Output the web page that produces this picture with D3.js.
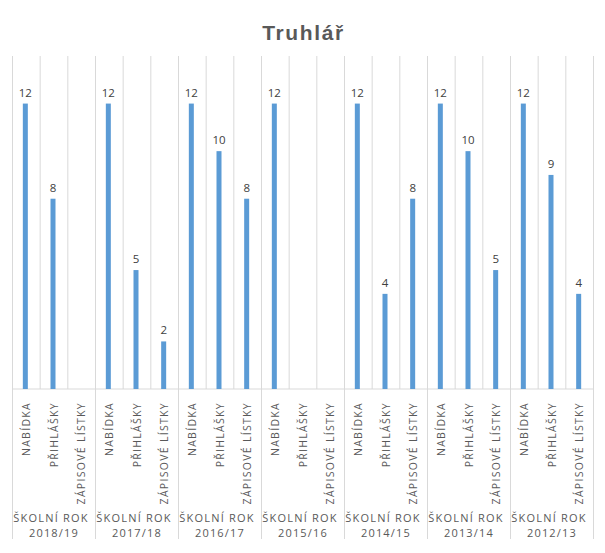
<!DOCTYPE html>
<html>
<head>
<meta charset="utf-8">
<script src="https://cdn.jsdelivr.net/npm/d3@7"></script>
<style>
  body { margin: 0; background: #fff; }
  text { font-family: "Open Sans", sans-serif; }
</style>
</head>
<body>
<svg width="605" height="553"></svg>
<script>
// Data
const years = ["2018/19", "2017/18", "2016/17", "2015/16", "2014/15", "2013/14", "2012/13"];
const categories = ["NABÍDKA", "PŘIHLÁŠKY", "ZÁPISOVÉ LÍSTKY"];
const nabidka = [12, 12, 12, 12, 12, 12, 12];
const prihlasky = [8, 5, 10, null, 4, 10, 9];
const zapisove = [null, 2, 8, null, 8, 5, 4];

const series = [nabidka, prihlasky, zapisove];

const svg = d3.select('svg');
const margin = { top: 56, left: 12.5, right: 11.5, bottom: 164 };
const width = +svg.attr('width');
const height = +svg.attr('height');
const baseY = height - margin.bottom;

const x0 = d3.scaleBand().domain(years).range([margin.left, width - margin.right]);
const x1 = d3.scaleBand().domain(categories).range([0, x0.bandwidth()]);
const y = d3.scaleLinear().domain([0, 14]).range([baseY, margin.top]);

const grid = '#d9d9d9';

// title
svg.append('text')
   .attr('x', width / 2 + 1).attr('y', 40)
   .attr('text-anchor', 'middle')
   .style('font-family', '"Liberation Sans", Arial, sans-serif')
   .style('font-weight', 'bold').style('font-size', '21px')
   .style('letter-spacing', '1.6px')
   .attr('fill', '#595959')
   .text('Truhlář');

// flatten rows
const rows = [];
years.forEach((yr, i) => {
  categories.forEach((c, j) => rows.push({ year: yr, cat: c, value: series[j][i] }));
});

// category dividers inside plot
const g = svg.append('g');
rows.forEach(d => {
  const xx = x0(d.year) + x1(d.cat) + x1.bandwidth();
  g.append('line')
   .attr('x1', xx).attr('x2', xx)
   .attr('y1', margin.top).attr('y2', baseY)
   .attr('stroke', grid);
});

// group dividers running down through the labels
const edges = years.map(yr => x0(yr)).concat([x0.range()[1]]);
g.selectAll('.gline').data(edges).join('line')
  .attr('x1', d => d).attr('x2', d => d)
  .attr('y1', margin.top).attr('y2', 539)
  .attr('stroke', grid);

// baseline
g.append('line')
  .attr('x1', x0.range()[0]).attr('x2', x0.range()[1])
  .attr('y1', baseY).attr('y2', baseY)
  .attr('stroke', grid);

// bars
const barW = 5;
const cx = d => x0(d.year) + x1(d.cat) + x1.bandwidth() / 2 - 1;
svg.selectAll('.bar').data(rows.filter(d => d.value != null)).join('rect')
  .attr('x', d => cx(d) - barW / 2)
  .attr('y', d => y(d.value))
  .attr('width', barW)
  .attr('height', d => baseY - y(d.value))
  .attr('fill', '#5b9bd5');

// value labels
svg.selectAll('.lbl').data(rows.filter(d => d.value != null)).join('text')
  .attr('x', cx)
  .attr('y', d => y(d.value) - 7)
  .attr('text-anchor', 'middle')
  .style('font-size', '11.5px')
  .attr('fill', '#404040')
  .text(d => d.value);

// category labels, rotated
svg.selectAll('.cat').data(rows).join('text')
  .attr('transform', d => `translate(${cx(d) + 1},${baseY + 13}) rotate(-90)`)
  .attr('dy', '0.35em')
  .attr('text-anchor', 'end')
  .style('font-size', '10.5px')
  .style('letter-spacing', '1.3px')
  .attr('fill', '#595959')
  .text(d => d.cat);

// group labels
const gl = svg.selectAll('.grp').data(years).join('text')
  .attr('text-anchor', 'middle')
  .style('font-size', '11px')
  .style('letter-spacing', '1.2px')
  .attr('fill', '#595959');
gl.append('tspan').attr('x', d => x0(d) + x0.bandwidth() / 2 - 3).attr('y', 522).text('ŠKOLNÍ ROK');
gl.append('tspan').attr('x', d => x0(d) + x0.bandwidth() / 2).attr('y', 537).text(d => d);
</script>
</body>
</html>
